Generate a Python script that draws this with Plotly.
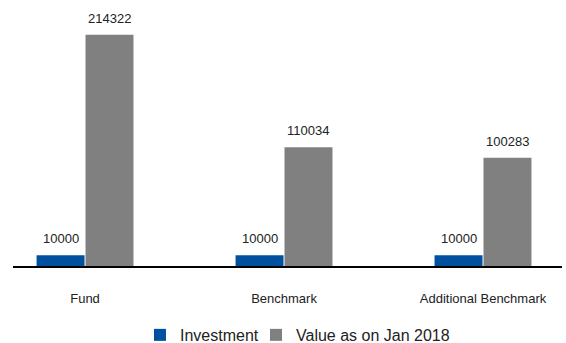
import plotly.graph_objects as go

categories = ["Fund", "Benchmark", "Additional Benchmark"]
investment = [10000, 10000, 10000]
value_jan2018 = [214322, 110034, 100283]

x = list(range(len(categories)))
BARGAP = 0.508
slot = (1 - BARGAP) / 2

fig = go.Figure()
fig.add_trace(go.Bar(
    x=x, y=investment, name="Investment", legend="legend",
    marker=dict(color="#0050a0", line=dict(width=0)),
))
fig.add_trace(go.Bar(
    x=x, y=value_jan2018, name="Value as on Jan 2018", legend="legend2",
    marker=dict(color="#808080", line=dict(width=0)),
))

# value labels above bars
for series, off in ((investment, -slot / 2), (value_jan2018, slot / 2)):
    for xi, v in zip(x, series):
        fig.add_annotation(
            x=xi + off, y=v, text=str(v), showarrow=False,
            yanchor="bottom", yshift=7,
            font=dict(size=13, color="#222222"),
        )

legend_common = dict(orientation="h", xanchor="left", xref="container",
                     y=0.073, yanchor="top", yref="container",
                     font=dict(size=16, color="#222222"), bgcolor="rgba(0,0,0,0)")

fig.update_layout(
    width=566, height=343,
    margin=dict(l=13, r=4, t=7, b=77, autoexpand=False),
    paper_bgcolor="white", plot_bgcolor="white",
    font=dict(family="Liberation Sans, Arial, sans-serif", size=13, color="#222222"),
    barmode="group", bargap=BARGAP, bargroupgap=0.02,
    showlegend=True,
    legend=dict(x=0.2473, **legend_common),
    legend2=dict(x=0.4523, **legend_common),
)
fig.update_xaxes(
    range=[-0.362, 2.397], tickvals=x, ticktext=categories,
    showline=True, linecolor="black", linewidth=2, showgrid=False, zeroline=False,
    ticks="", ticklabelstandoff=19, tickfont=dict(size=13, color="#222222"),
    automargin=False,
)
fig.update_yaxes(range=[0, 240000], visible=False, showgrid=False, zeroline=False,
                 automargin=False)

fig.write_html("out.html")
